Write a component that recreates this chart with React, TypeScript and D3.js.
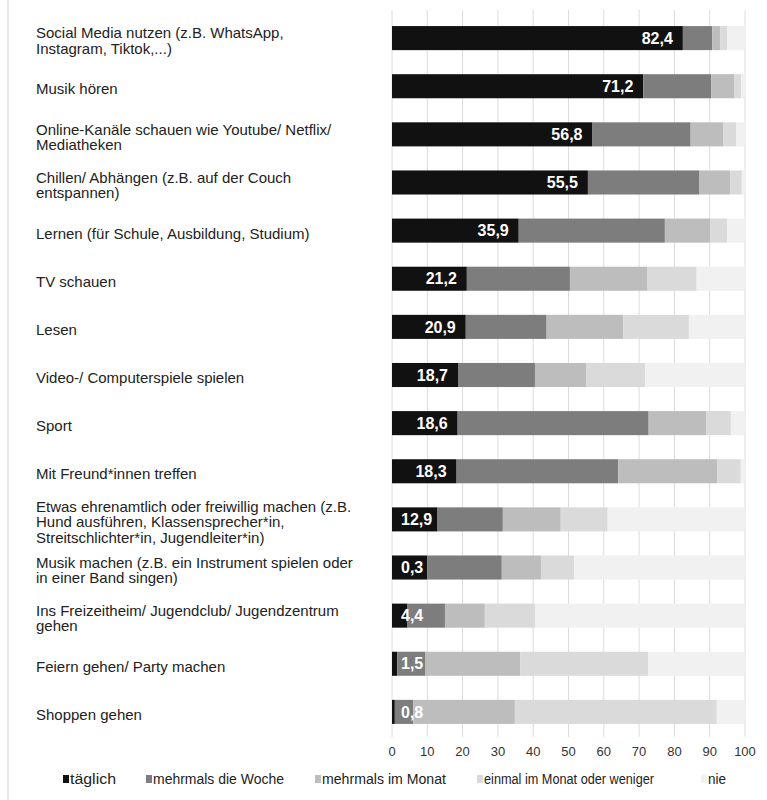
import React from "react";
import * as d3 from "d3";

const categories: string[] = [
  "Social Media nutzen (z.B. WhatsApp,\nInstagram, Tiktok,...)",
  "Musik hören",
  "Online-Kanäle schauen wie Youtube/ Netflix/\nMediatheken",
  "Chillen/ Abhängen (z.B. auf der Couch\nentspannen)",
  "Lernen (für Schule, Ausbildung, Studium)",
  "TV schauen",
  "Lesen",
  "Video-/ Computerspiele spielen",
  "Sport",
  "Mit Freund*innen treffen",
  "Etwas ehrenamtlich oder freiwillig machen (z.B.\nHund ausführen, Klassensprecher*in,\nStreitschlichter*in, Jugendleiter*in)",
  "Musik machen (z.B. ein Instrument spielen oder\nin einer Band singen)",
  "Ins Freizeitheim/ Jugendclub/ Jugendzentrum\ngehen",
  "Feiern gehen/ Party machen",
  "Shoppen gehen",
];

const seriesNames: string[] = [
  "täglich",
  "mehrmals die Woche",
  "mehrmals im Monat",
  "einmal im Monat oder weniger",
  "nie",
];

const taeglich = [82.4, 71.2, 56.8, 55.5, 35.9, 21.2, 20.9, 18.7, 18.6, 18.3, 12.9, 10.0, 4.4, 1.5, 0.8];
const mehrmalsWoche = [8.3, 19.2, 27.8, 31.6, 41.4, 29.2, 22.9, 21.8, 54.1, 45.8, 18.5, 21.1, 10.6, 8.0, 5.2];
const mehrmalsMonat = [2.3, 6.6, 9.3, 8.7, 12.8, 22.0, 21.7, 14.6, 16.4, 28.1, 16.4, 11.1, 11.3, 26.8, 28.8];
const einmalMonat = [1.9, 1.9, 3.6, 3.3, 4.9, 13.9, 18.6, 16.6, 6.9, 6.6, 13.3, 9.4, 14.2, 36.3, 57.2];
const nie = [5.1, 1.1, 2.5, 0.9, 5.0, 13.7, 15.9, 28.3, 4.0, 1.2, 38.9, 48.4, 59.5, 27.4, 8.0];

const valueLabels = ["82,4", "71,2", "56,8", "55,5", "35,9", "21,2", "20,9", "18,7", "18,6", "18,3", "12,9", "0,3", "4,4", "1,5", "0,8"];

const xTicks = [0, 10, 20, 30, 40, 50, 60, 70, 80, 90, 100];

const colors = ["#111111", "#7d7d7d", "#bdbdbd", "#dadada", "#f1f1f1"];
const legendX = [63, 146, 315, 477, 701];
const legendTextW = [46, 131, 124, 170, 18];

export default function App() {
  const W = 767;
  const H = 800;
  const x = d3.scaleLinear().domain([0, 100]).range([392, 745]);
  const y = d3
    .scaleBand<number>()
    .domain(categories.map((_, i) => i))
    .range([2, 748])
    .padding(0.5);

  const rows = categories.map((c, i) => ({
    i,
    vals: [taeglich[i], mehrmalsWoche[i], mehrmalsMonat[i], einmalMonat[i], nie[i]],
  }));
  const stack = d3.stack<any>().keys(["0", "1", "2", "3", "4"]).value((d, k) => d.vals[+k]);
  const stacked = stack(rows);

  const font = "'Liberation Sans', Arial, sans-serif";
  const labelFs = 16;
  const charW = (s: string) =>
    s.split("").reduce((a, ch) => a + (ch === "," ? 0.278 : 0.556), 0) * labelFs;

  return (
    <svg
      width={W}
      height={H}
      style={{ position: "absolute", left: 0, top: 0, background: "#fff" }}
      fontFamily={font}
    >
      <line x1={8} x2={8} y1={0} y2={H} stroke="#e2e2e2" strokeWidth={1.5} />
      {xTicks.map((t) => (
        <line key={t} x1={x(t)} x2={x(t)} y1={10} y2={737} stroke="#dcdcdc" strokeWidth={1} />
      ))}
      {stacked.map((s, si) => (
        <g key={si} fill={colors[si]}>
          {s.map((d, i) => (
            <rect
              key={i}
              x={x(d[0])}
              width={Math.max(0, x(d[1]) - x(d[0]))}
              y={y(i)!}
              height={y.bandwidth()}
            />
          ))}
        </g>
      ))}
      {valueLabels.map((lab, i) => {
        const end = x(taeglich[i]);
        const w = charW(lab);
        const anchorEnd = Math.max(end - 10, x(0) + 9 + w);
        return (
          <text
            key={i}
            x={anchorEnd}
            y={y(i)! + y.bandwidth() / 2 + 5.7}
            textAnchor="end"
            fill="#ffffff"
            fontWeight="bold"
            fontSize={labelFs}
          >
            {lab}
          </text>
        );
      })}
      {categories.map((c, i) => {
        const lines = c.split("\n");
        const lh = 15.5;
        const cy = y(i)! + y.bandwidth() / 2 + 3;
        const top = cy - ((lines.length - 1) * lh) / 2;
        return (
          <text key={i} fontSize={15} fill="#222">
            {lines.map((l, li) => (
              <tspan key={li} x={36} y={top + li * lh + 5}>
                {l}
              </tspan>
            ))}
          </text>
        );
      })}
      {xTicks.map((t) => (
        <text key={t} x={x(t)} y={756} textAnchor="middle" fontSize={13} fill="#333">
          {t}
        </text>
      ))}
      {seriesNames.map((n, i) => (
        <g key={i}>
          <rect x={legendX[i]} y={775} width={6} height={8} fill={colors[i]} />
          <text
            x={legendX[i] + 7}
            y={784}
            fontSize={14}
            fill="#222"
            textLength={legendTextW[i]}
            lengthAdjust="spacingAndGlyphs"
          >
            {n}
          </text>
        </g>
      ))}
    </svg>
  );
}
